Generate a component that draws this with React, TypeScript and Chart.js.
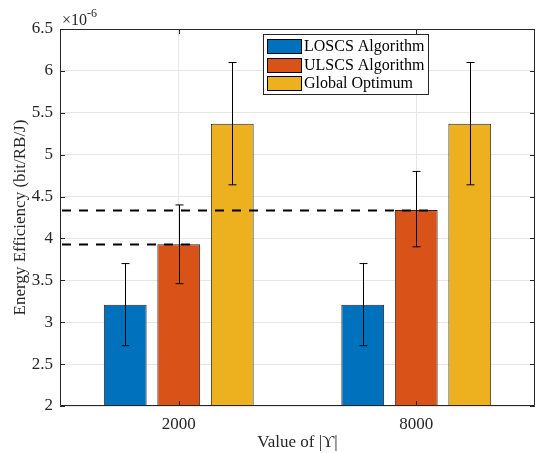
import React, { useEffect, useRef } from "react";
import { Chart, registerables } from "chart.js";

Chart.register(...registerables);

const categories = ["2000", "8000"];
const seriesNames = ["LOSCS Algorithm", "ULSCS Algorithm", "Global Optimum"];
const loscs = [3.21, 3.21];
const ulscs = [3.93, 4.34];
const globalOpt = [5.37, 5.37];
const loscsErrLow = [2.72, 2.72];
const loscsErrHigh = [3.7, 3.7];
const ulscsErrLow = [3.46, 3.9];
const ulscsErrHigh = [4.4, 4.8];
const globalErrLow = [4.64, 4.64];
const globalErrHigh = [6.1, 6.1];
const refLines = [3.93, 4.34];
const yTicks = [2, 2.5, 3, 3.5, 4, 4.5, 5, 5.5, 6, 6.5];

const colors = ["#0072BD", "#D95319", "#EDB120"];
const FONT = "'Liberation Serif', 'Times New Roman', serif";
const AXIS = "#262626";

const errLows = [loscsErrLow, ulscsErrLow, globalErrLow];
const errHighs = [loscsErrHigh, ulscsErrHigh, globalErrHigh];

const overlayPlugin = {
  id: "overlay",
  afterDatasetsDraw(chart: any) {
    const ctx = chart.ctx;
    const y = chart.scales.y;
    const x = chart.scales.x;
    const area = chart.chartArea;
    ctx.save();
    // dashed reference lines (to ULSCS bars)
    const ulMeta = chart.getDatasetMeta(1);
    ctx.strokeStyle = "#000";
    ctx.lineWidth = 2;
    ctx.setLineDash([9, 8]);
    refLines.forEach((v, j) => {
      const el = ulMeta.data[j];
      const py = Math.round(y.getPixelForValue(v)) + 0.5;
      ctx.beginPath();
      ctx.moveTo(area.left + 2, py);
      ctx.lineTo(el.x + el.width / 2 - 4, py);
      ctx.stroke();
    });
    ctx.setLineDash([]);
    // error bars
    ctx.lineWidth = 1;
    ctx.strokeStyle = "#000";
    for (let i = 0; i < 3; i++) {
      const meta = chart.getDatasetMeta(i);
      meta.data.forEach((el: any, j: number) => {
        const px = Math.round(el.x) + 0.5;
        const lo = y.getPixelForValue(errLows[i][j]);
        const hi = y.getPixelForValue(errHighs[i][j]);
        ctx.beginPath();
        ctx.moveTo(px, lo);
        ctx.lineTo(px, hi);
        ctx.moveTo(px - 4, lo);
        ctx.lineTo(px + 4, lo);
        ctx.moveTo(px - 4, hi);
        ctx.lineTo(px + 4, hi);
        ctx.stroke();
      });
    }
    // box and inward ticks
    ctx.strokeStyle = AXIS;
    ctx.lineWidth = 1;
    ctx.beginPath();
    ctx.rect(area.left + 0.5, area.top + 0.5, area.right - area.left - 1, area.bottom - area.top - 1);
    ctx.stroke();
    ctx.beginPath();
    yTicks.forEach((v) => {
      const py = Math.round(y.getPixelForValue(v)) + 0.5;
      ctx.moveTo(area.left, py);
      ctx.lineTo(area.left + 5, py);
      ctx.moveTo(area.right, py);
      ctx.lineTo(area.right - 5, py);
    });
    categories.forEach((_, j) => {
      const px = Math.round(x.getPixelForValue(j)) + 0.5;
      ctx.moveTo(px, area.bottom);
      ctx.lineTo(px, area.bottom - 5);
      ctx.moveTo(px, area.top);
      ctx.lineTo(px, area.top + 5);
    });
    ctx.stroke();
    // exponent label
    ctx.fillStyle = AXIS;
    ctx.textBaseline = "alphabetic";
    ctx.textAlign = "left";
    ctx.font = `16px ${FONT}`;
    ctx.fillText("\u00d710", area.left + 2, area.top - 4);
    const w = ctx.measureText("\u00d710").width;
    ctx.font = `12px ${FONT}`;
    ctx.fillText("-6", area.left + 2 + w, area.top - 12);
    // legend
    const lx = 263, ly = 34, lw = 165, lh = 60;
    ctx.fillStyle = "#fff";
    ctx.fillRect(lx, ly, lw, lh);
    ctx.strokeStyle = "#262626";
    ctx.strokeRect(lx + 0.5, ly + 0.5, lw, lh);
    ctx.font = `16px ${FONT}`;
    ctx.textBaseline = "middle";
    seriesNames.forEach((name, i) => {
      const cy = 46 + i * 18.5;
      ctx.fillStyle = colors[i];
      ctx.fillRect(267, Math.round(cy - 7), 34, 14);
      ctx.strokeStyle = "#000";
      ctx.strokeRect(267.5, Math.round(cy - 7) + 0.5, 34, 14);
      ctx.fillStyle = "#000";
      ctx.fillText(name, 304, cy + 1);
    });
    ctx.restore();
  },
};

export default function App() {
  const ref = useRef<HTMLCanvasElement>(null);
  useEffect(() => {
    if (!ref.current) return;
    const data = [loscs, ulscs, globalOpt];
    const chart = new Chart(ref.current, {
      type: "bar",
      data: {
        labels: categories,
        datasets: seriesNames.map((name, i) => ({
          label: name,
          data: data[i],
          backgroundColor: colors[i],
          borderColor: "#262626",
          borderWidth: 1,
          borderSkipped: false,
          categoryPercentage: 0.676,
          barPercentage: 0.8,
        })),
      },
      options: {
        responsive: false,
        animation: false,
        layout: { padding: { left: 0, right: 1, top: 29, bottom: 0 } },
        plugins: {
          legend: { display: false },
          tooltip: { enabled: false },
        },
        scales: {
          x: {
            offset: true,
            grid: { offset: false, color: "#e6e6e6", drawTicks: false },
            border: { display: false },
            ticks: { color: AXIS, font: { family: FONT, size: 17 }, padding: 8 },
            title: {
              display: true,
              text: "Value of |\u03d2|",
              color: AXIS,
              font: { family: FONT, size: 17 },
              padding: { top: 0, bottom: 0 },
            },
            afterFit(scale: any) {
              scale.height = 47;
            },
          },
          y: {
            min: 2,
            max: 6.5,
            afterBuildTicks(scale: any) {
              scale.ticks = yTicks.map((v) => ({ value: v }));
            },
            grid: { color: "#e6e6e6", drawTicks: false },
            border: { display: false },
            ticks: {
              color: AXIS,
              font: { family: FONT, size: 17 },
              padding: 7,
              callback: (v: any) => String(v),
            },
            title: {
              display: true,
              text: "Energy Efficiency (bit/RB/J)",
              color: AXIS,
              font: { family: FONT, size: 17 },
              padding: { top: 10, bottom: 0 },
            },
            afterFit(scale: any) {
              scale.width = 60;
            },
          },
        },
      },
      plugins: [overlayPlugin],
    });
    return () => chart.destroy();
  }, []);
  return (
    <div style={{ position: "fixed", left: 0, top: 0, width: 536, height: 453, background: "#fff" }}>
      <canvas ref={ref} width={536} height={453} style={{ width: 536, height: 453 }} />
    </div>
  );
}
